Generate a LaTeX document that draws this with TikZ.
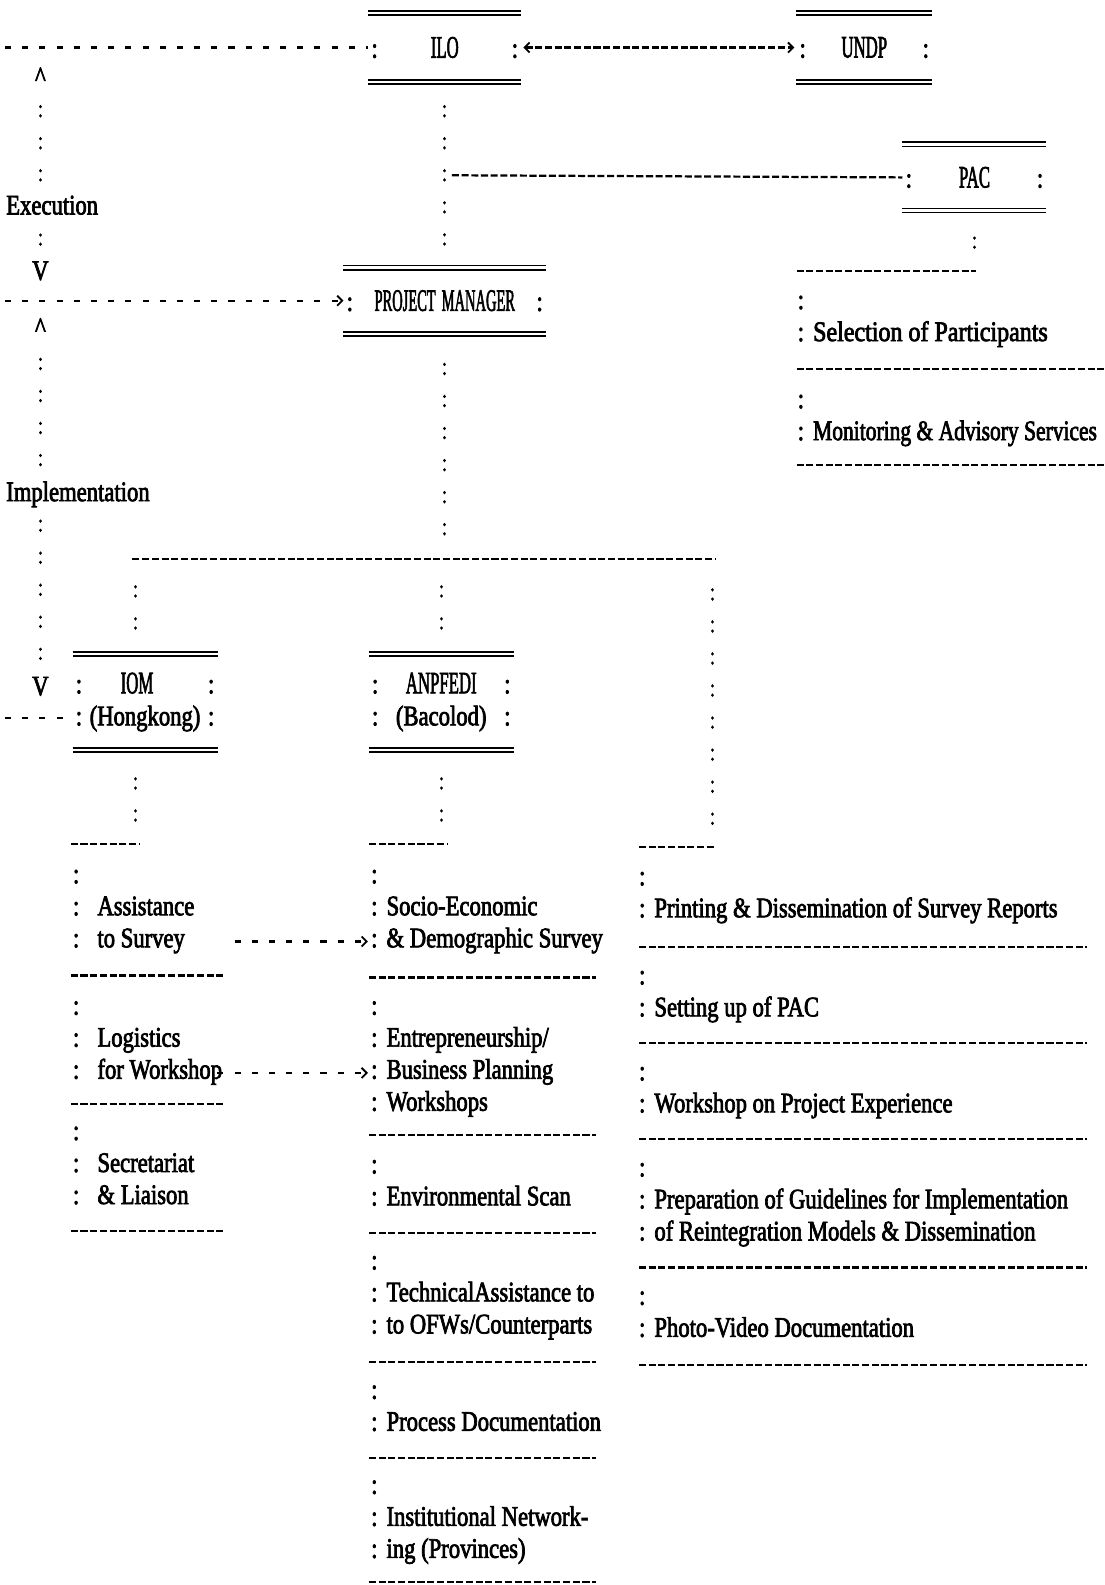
\documentclass[tikz,border=0pt]{standalone}
\usepackage{fontspec}
\usetikzlibrary{arrows.meta}

\newfontfamily\chartfont{Liberation Serif}[FakeStretch=0.8,FakeBold=2.5]
\newcommand{\brow}[1]{\hbox to \linewidth{:\hfill #1\hfill :}}
\newcommand{\caps}[2][0.74]{\scalebox{#1}[1.1]{#2}}
\newcommand{\cln}{:\hspace{9pt}}
\newcommand{\clnw}{:\hspace{18pt}}

\tikzset{
  txt/.style={font=\chartfont\fontsize{28}{31.7}\selectfont, inner sep=0pt},
  unitbox/.style={txt, text width=#1, inner xsep=3pt, align=left},
  listitem/.style={txt, align=left, anchor=base west},
  dense/.style={line width=2.2pt, dash pattern=on 7pt off 2.6pt},
  sparse/.style={line width=2.2pt, dash pattern=on 6pt off 11pt},
  colons/.style={line width=3.4pt, line cap=round, dash pattern=on 0.1pt off 9pt on 0.1pt off 22.5pt},
  dbl/.style={double, double distance=2.4pt, line width=1.7pt}
}

\begin{document}
\begin{tikzpicture}[x=1pt, y=-1pt, >={Straight Barb[length=5pt,width=10pt,line width=1.8pt]}]
\useasboundingbox (0,0) rectangle (1093,1568);

% units
\node[unitbox=145pt, minimum height=68pt] (ilo) at (440,47) {\brow{\caps{ILO}}};
\node[unitbox=128pt, minimum height=68pt] (undp) at (855,47) {\brow{\caps{UNDP}}};
\node[unitbox=136pt, minimum height=65pt] (pac) at (964,175.5) {\brow{\caps{PAC}}};
\node[unitbox=194pt, minimum height=65pt] (pm) at (440,297.5) {\brow{\caps[0.64]{PROJECT MANAGER}}};
\node[unitbox=137pt, minimum height=95pt] (iom) at (143.5,694.5) {\brow{\caps{IOM}\hspace{16pt}}\\\brow{(Hongkong)}};
\node[unitbox=137pt, minimum height=95pt] (anp) at (436.5,694.5) {\brow{\caps{ANPFEDI}}\\\brow{(Bacolod)}};
\foreach \b in {ilo,undp,pac,pm,iom,anp} {
  \draw[dbl] (\b.north west) -- (\b.north east);
  \draw[dbl] (\b.south west) -- (\b.south east);
}

% side labels
\node[txt] (exup) at (40,76) {\textasciicircum};
\node[txt, anchor=west] (exlab) at (6,203) {Execution};
\node[txt] (exdn) at (40,268) {V};
\node[txt] (imup) at (40,324) {\textasciicircum};
\node[txt, anchor=west] (imlab) at (6,489) {Implementation};
\node[txt] (imdn) at (40,679) {V};

\coordinate (ilox) at (5,47);
\coordinate (pmx) at (5,297.5);
\coordinate (iomx) at (5,710.4);
\coordinate (j1) at (447,173.4);
\coordinate (busL) at (134,553);
\coordinate (busR) at (705,553);
\coordinate (h1) at (70,835);
\coordinate (h2) at (365,835);
\coordinate (h3) at (632,838);
\coordinate (h4) at (788,268);
\coordinate (a1) at (232,931.4);
\coordinate (a2) at (215,1061.4);

% horizontal links
\draw[sparse] (ilox) -- (ilo.west);
\draw[dense, <->, shorten <=2pt, shorten >=2pt] (ilo.east) -- (undp.west);
\draw[sparse, ->] (pmx) -- (pm.west);
\draw[sparse] (iomx) -- (iom.west |- iomx);
\draw[dense] (j1) -- (pac.west);
\draw[dense] ([xshift=-3pt]busL) -- ([xshift=3pt]busR);

% vertical links
\draw[colons, shorten <=29.45pt, shorten >=8pt] (exup.center) -- (exup.center |- exlab.center);
\draw[colons, shorten <=29.45pt, shorten >=5pt] (exup.center |- exlab.center) -- (exdn.center);
\draw[colons, shorten <=31.45pt, shorten >=8pt] (imup.center) -- (imup.center |- imlab.center);
\draw[colons, shorten <=26.45pt, shorten >=6pt] (imup.center |- imlab.center) -- (imdn.center);
\draw[colons, shorten <=58.45pt, shorten >=35.5pt] (ilo.center) -- (ilo.center |- pm.center);
\draw[colons, shorten <=62.95pt, shorten >=3pt] (pm.center) -- (pm.center |- busL);
\draw[colons, shorten <=27.45pt, shorten >=52pt] (busL) -- (busL |- iom.center);
\draw[colons, shorten <=27.45pt, shorten >=52pt] (anp.center |- busL) -- (anp.center);
\draw[colons, shorten <=30.45pt, shorten >=2pt] (busR) -- (busR |- h3);
\draw[colons, shorten <=75.95pt, shorten >=2pt] (busL |- iom.center) -- (busL |- h1);
\draw[colons, shorten <=75.95pt, shorten >=2pt] (anp.center) -- (anp.center |- h2);
\draw[colons, shorten <=59.95pt, shorten >=2pt] (pac.center) -- (pac.center |- h4);

% task lists
\draw[dense] (h1) -- ++(68,0);
\draw[dense] (h2) -- ++(77,0);
\draw[dense] (h3) -- ++(74,0);
\draw[dense] (h4) -- ++(178,0);

\node[listitem] (surv) at (72,937.1) {:\\\clnw Assistance\\\clnw to Survey};
\node[listitem] (logi) at (72,1067.1) {:\\\clnw Logistics\\\clnw for Workshop};
\node[listitem] (secr) at (72,1191.1) {:\\\clnw Secretariat\\\clnw \& Liaison};
\foreach \y in {965,1092,1218} \draw[dense] (70,\y) -- (222,\y);

\node[listitem] (socio) at (367,937.1) {:\\\cln Socio-Economic\\\cln \& Demographic Survey};
\node[listitem] (entr) at (367,1098.8) {:\\\cln Entrepreneurship/\\\cln Business Planning\\\cln Workshops};
\node[listitem] (envs) at (367,1192.4) {:\\\cln Environmental Scan};
\node[listitem] (tech) at (367,1319.1) {:\\\cln TechnicalAssistance to\\\cln to OFWs/Counterparts};
\node[listitem] (proc) at (367,1415.4) {:\\\cln Process Documentation};
\node[listitem] (inst) at (367,1541.1) {:\\\cln Institutional Network-\\\cln ing (Provinces)};
\foreach \y in {967,1123,1220,1347,1442,1565} \draw[dense] (365,\y) -- (590,\y);

\node[listitem] (prnt) at (632,907.4) {:\\\cln Printing \& Dissemination of Survey Reports};
\node[listitem] (spac) at (632,1005.4) {:\\\cln Setting up of PAC};
\node[listitem] (wexp) at (632,1100.4) {:\\\cln Workshop on Project Experience};
\node[listitem] (guid) at (632,1227.1) {:\\\cln Preparation of Guidelines for Implementation\\\cln of Reintegration Models \& Dissemination};
\node[listitem] (phot) at (632,1322.4) {:\\\cln Photo-Video Documentation};
\foreach \y in {937,1032,1127,1254,1350} \draw[dense] (632,\y) -- (1075,\y);

\node[listitem] (selp) at (789,337.4) {:\\\cln \scalebox{1.06}[1]{Selection of Participants}};
\node[listitem] (mons) at (789,435.4) {:\\\cln \scalebox{0.95}[1]{Monitoring \& Advisory Services}};
\foreach \y in {365,460} \draw[dense] (788,\y) -- (1093,\y);

% support links
\draw[sparse, ->, shorten >=3pt] (a1) -- (socio.west |- a1);
\draw[sparse, ->, shorten >=3pt] (a2) -- (entr.west |- a2);
\end{tikzpicture}
\end{document}
